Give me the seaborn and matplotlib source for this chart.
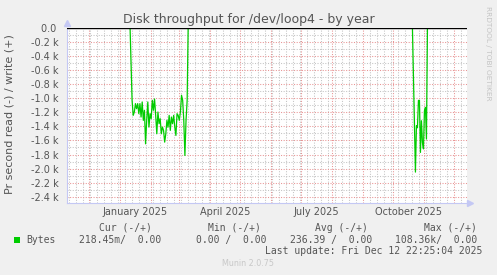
import matplotlib
matplotlib.use("Agg")
import matplotlib.pyplot as plt
import matplotlib.dates as mdates
import matplotlib.transforms as mtransforms
from matplotlib.patches import Rectangle
import numpy as np
import pandas as pd
import seaborn as sns

# ---------------- data ----------------
# read throughput (negative = read), bytes per second, first active period
seg1_zero_before = "2025-01-11"
seg1_start = "2025-01-13"
seg1_end = "2025-03-09"
seg1_zero_after = "2025-03-10"
seg1_values = [-1029, -1243, -1195, -1076, -1148, -1076, -1219, -1076, -1267, -1052,
               -1314, -1171, -1648, -1314, -1052, -1410, -1219, -1290, -1029, -1171,
               -1010, -1243, -1505, -1195, -1362, -1290, -1505, -1410, -1457, -1624,
               -1505, -1314, -1410, -1243, -1457, -1267, -1362, -1243, -1410, -1529,
               -1219, -1243, -1314, -1195, -957, -1029, -1314, -1814, -1314, -1029]

# second active period
seg2_dates = ["2025-10-20", "2025-10-23", "2025-10-24", "2025-10-25", "2025-10-26",
              "2025-10-27", "2025-10-28", "2025-10-29", "2025-10-30", "2025-10-31",
              "2025-11-01", "2025-11-02", "2025-11-03", "2025-11-04"]
seg2_values = [0, -2050, -1390, -1420, -1030, -1030, -1770, -1320, -1630, -1720,
               -1180, -1130, -1580, 0]

x_start = "2024-11-09"
x_end = "2025-12-13 12:00"

y_ticks = [0, -200, -400, -600, -800, -1000, -1200, -1400, -1600, -1800, -2000, -2200, -2400]
y_tick_labels = ["0.0 ", "-0.2 k", "-0.4 k", "-0.6 k", "-0.8 k", "-1.0 k", "-1.2 k",
                 "-1.4 k", "-1.6 k", "-1.8 k", "-2.0 k", "-2.2 k", "-2.4 k"]
x_label_dates = ["2025-01-16", "2025-04-16", "2025-07-16", "2025-10-16"]
x_label_texts = ["January 2025", "April 2025", "July 2025", "October 2025"]

legend_headers = ["Cur (-/+)", "Min (-/+)", "Avg (-/+)", "Max (-/+)"]
legend_values = ["218.45m/  0.00", "0.00 /  0.00", "236.39 /  0.00", "108.36k/  0.00"]
series_name = "Bytes"
title = "Disk throughput for /dev/loop4 - by year"
ylabel = "Pr second read (-) / write (+)"
last_update = "Last update: Fri Dec 12 22:25:04 2025"

# --------------- build table ---------------
seg1_dates = ([pd.Timestamp(seg1_zero_before)] +
              list(pd.date_range(seg1_start, seg1_end, periods=len(seg1_values))) +
              [pd.Timestamp(seg1_zero_after)])
seg1_vals = [0] + seg1_values + [0]
df = pd.concat([
    pd.DataFrame({"date": seg1_dates, "value": seg1_vals, "seg": 1}),
    pd.DataFrame({"date": pd.to_datetime(seg2_dates), "value": seg2_values, "seg": 2}),
], ignore_index=True)

# --------------- figure ---------------
W, H = 497, 275
BG = "#F0F0F0"
TXT = "#555555"
GREEN = "#00CC00"
AXC = "#C4C8F4"

sns.set_style("white")
plt.rcParams["font.family"] = ["DejaVu Sans"]

fig = plt.figure(figsize=(W / 100, H / 100), dpi=100, facecolor=BG)
L, R, T, B = 67, 467, 28, 203
ax = fig.add_axes([L / W, 1 - B / H, (R - L) / W, (B - T) / H])
ax.set_facecolor("white")

sns.lineplot(data=df, x="date", y="value", units="seg", estimator=None,
             color=GREEN, linewidth=0.9, ax=ax, legend=False)
ax.axhline(0, color="black", linewidth=1.0, zorder=5)

ax.set_xlim(pd.Timestamp(x_start), pd.Timestamp(x_end))
ax.set_ylim(-2490, 0)

ax.xaxis.set_major_locator(mdates.MonthLocator())
ax.xaxis.set_minor_locator(mdates.WeekdayLocator(byweekday=mdates.MO))
ax.xaxis.set_major_formatter(plt.NullFormatter())
ax.set_yticks(y_ticks)
ax.set_yticklabels(y_tick_labels)
ax.set_yticks(np.arange(-2400, 1, 100), minor=True)

ax.grid(which="minor", color="#C4C4C4", linestyle=(0, (1, 1.5)), linewidth=0.75)
ax.grid(which="major", color="#E89494", linestyle=(0, (1, 1.5)), linewidth=0.75)
ax.set_axisbelow(True)

ax.tick_params(axis="y", which="major", length=1.5, width=0.6, color="#E0A0A0",
               pad=4.3, labelsize=7, labelcolor=TXT)
ax.tick_params(axis="y", which="minor", length=1.5, width=0.6, color="#D0D0D0")
ax.tick_params(axis="x", which="major", length=3, width=0.6, color="#E0A0A0", direction="out")
ax.tick_params(axis="x", which="minor", length=2, width=0.6, color="#D0D0D0", direction="out")

for s in ["top", "right"]:
    ax.spines[s].set_visible(False)
for s in ["left", "bottom"]:
    ax.spines[s].set_color(AXC)
    ax.spines[s].set_linewidth(0.8)
ax.set_xlabel("")
ax.set_ylabel("")

# axis arrows
ax.plot([1.0075], [0], marker=">", color=AXC, markersize=4, transform=ax.transAxes, clip_on=False)
ax.plot([0], [1.03], marker="^", color=AXC, markersize=4, transform=ax.transAxes, clip_on=False)

# x labels centred mid-month
trans = mtransforms.blended_transform_factory(ax.transData, ax.transAxes)
for d, t in zip(x_label_dates, x_label_texts):
    ax.text(pd.Timestamp(d), -0.05, t, transform=trans, ha="center", va="center",
            fontsize=7, color=TXT)

# texts
fig.text(0.5, 1 - 19 / H, title, ha="center", va="center", fontsize=9, color=TXT)
fig.text(10 / W, 1 - 114 / H, ylabel, rotation=90, ha="center", va="center",
         fontsize=8, color=TXT)
fig.text(488 / W, 1 - 53 / H, "RRDTOOL / TOBI OETIKER", rotation=270, ha="center",
         va="center", fontsize=5.3, color="#C4C4C4")

mono = "DejaVu Sans Mono"
hdr_right = [152, 261, 368, 477]
val_right = [161, 266, 372, 477]
for xr, t in zip(hdr_right, legend_headers):
    fig.text(xr / W, 1 - 228 / H, t, ha="right", va="center", fontsize=7,
             family=mono, color=TXT)
for xr, t in zip(val_right, legend_values):
    fig.text(xr / W, 1 - 240 / H, t, ha="right", va="center", fontsize=7,
             family=mono, color=TXT)
fig.text(26 / W, 1 - 240 / H, series_name, ha="left", va="center", fontsize=7,
         family=mono, color=TXT)
fig.add_artist(Rectangle((14 / W, 1 - 243 / H), 6 / W, 6 / H, transform=fig.transFigure,
                         facecolor=GREEN, edgecolor="none"))
fig.text(482 / W, 1 - 251 / H, last_update, ha="right", va="center", fontsize=7,
         family=mono, color=TXT)
fig.text(248 / W, 1 - 264 / H, "Munin 2.0.75", ha="center", va="center", fontsize=5.8,
         color="#C8C8C8")

fig.savefig("out.png", dpi=100, facecolor=BG)
